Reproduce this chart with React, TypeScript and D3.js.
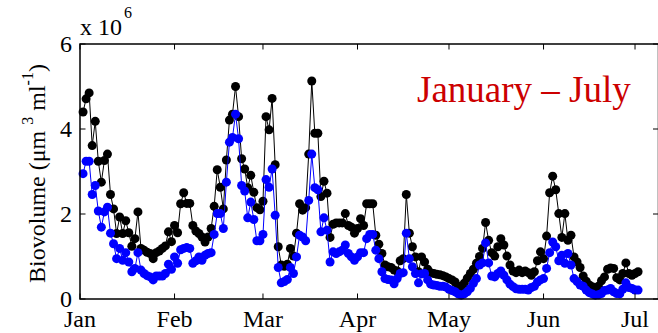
import React from "react";
import * as d3 from "d3";

// Daily biovolume values (x 10^6 µm^3 ml^-1), starting 2 January
const startDate = "2008-01-02";

const totalBiovolume = [
  4.40, 4.71, 4.85, 3.61, 4.18, 3.24, 2.75, 3.26, 3.41, 2.46,
  2.12, 1.54, 1.93, 1.54, 1.84, 1.56, 1.24, 1.42, 2.05, 1.19,
  1.15, 1.10, 1.07, 0.95, 1.09, 1.13, 1.19, 1.25, 1.58, 1.35,
  1.73, 1.56, 2.24, 2.50, 2.25, 2.25, 1.73, 1.60, 1.54, 1.46,
  1.34, 1.46, 1.66, 2.18, 3.04, 2.63, 2.12, 3.27, 4.21, 4.35,
  5.00, 4.29, 3.30, 3.06, 2.62, 2.91, 2.51, 2.15, 2.10, 2.30,
  4.29, 3.98, 4.72, 3.16, 1.23, 0.80, 0.77, 0.82, 1.19, 1.01,
  1.55, 2.24, 2.09, 2.15, 3.41, 5.13, 3.90, 3.90, 2.41, 2.77,
  2.49, 1.45, 1.76, 1.79, 1.79, 1.79, 2.01, 1.73, 1.69, 1.55,
  1.66, 1.89, 1.73, 2.24, 2.24, 2.24, 1.50, 1.29, 1.07, 0.80,
  0.76, 0.74, 0.68, 0.66, 0.90, 0.95, 2.46, 1.55, 1.23, 0.99,
  0.64, 0.99, 0.87, 0.70, 0.62, 0.60, 0.58, 0.57, 0.55, 0.52,
  0.48, 0.45, 0.40, 0.30, 0.25, 0.37, 0.49, 0.60, 0.70, 0.84,
  1.00, 1.19, 1.80, 1.38, 1.09, 1.01, 1.23, 1.42, 1.27, 1.01,
  0.80, 0.66, 0.62, 0.68, 0.62, 0.66, 0.62, 0.56, 0.64, 0.90,
  1.11, 0.95, 1.48, 2.50, 2.89, 2.57, 2.01, 1.45, 2.01, 1.38,
  1.50, 0.99, 0.87, 0.74, 0.54, 0.42, 0.33, 0.29, 0.21, 0.30,
  0.43, 0.52, 0.70, 0.73, 0.72, 0.50, 0.45, 0.60, 0.85, 0.60,
  0.56, 0.60, 0.64,
];

const subsetBiovolume = [
  2.95, 3.24, 3.24, 2.46, 2.67, 2.07, 1.69, 2.05, 2.16, 1.55,
  1.30, 0.95, 1.19, 0.91, 1.09, 0.87, 0.64, 0.72, 1.09, 0.68,
  0.60, 0.55, 0.52, 0.45, 0.54, 0.54, 0.54, 0.60, 0.82, 0.70,
  0.99, 0.84, 1.16, 1.19, 1.21, 1.19, 0.84, 0.90, 0.99, 0.91,
  1.03, 1.07, 1.09, 1.52, 2.01, 2.01, 1.66, 2.75, 3.69, 3.80,
  4.35, 3.77, 2.67, 2.54, 1.91, 2.28, 1.87, 1.37, 1.37, 1.52,
  2.81, 2.63, 3.06, 1.97, 0.74, 0.38, 0.41, 0.46, 0.74, 0.60,
  0.99, 1.50, 1.46, 1.37, 2.32, 3.41, 2.62, 2.57, 1.58, 1.91,
  1.62, 0.87, 1.11, 1.07, 1.11, 1.15, 1.27, 1.07, 0.99, 0.91,
  0.99, 1.09, 1.09, 1.42, 1.52, 1.52, 1.15, 0.95, 0.64, 0.48,
  0.46, 0.45, 0.36, 0.48, 0.60, 0.62, 1.55, 0.95, 0.76, 0.60,
  0.38, 0.59, 0.60, 0.45, 0.35, 0.33, 0.32, 0.30, 0.30, 0.28,
  0.23, 0.20, 0.17, 0.12, 0.09, 0.12, 0.17, 0.25, 0.37, 0.48,
  0.80, 0.85, 1.32, 0.85, 0.54, 0.52, 0.60, 0.66, 0.56, 0.45,
  0.35, 0.29, 0.24, 0.23, 0.23, 0.23, 0.21, 0.27, 0.30, 0.40,
  0.45, 0.48, 0.72, 1.09, 1.34, 1.23, 0.90, 1.03, 0.84, 1.07,
  0.80, 0.48, 0.41, 0.33, 0.30, 0.21, 0.15, 0.12, 0.09, 0.10,
  0.13, 0.20, 0.21, 0.25, 0.17, 0.13, 0.12, 0.23, 0.38, 0.27,
  0.25, 0.21, 0.21,
];

const yTicks = [0, 2, 4, 6];
const monthLabels = ["Jan", "Feb", "Mar", "Apr", "May", "Jun", "Jul"];
const titleText = "January \u2013 July";

const W = 658;
const H = 333;
const M = { left: 80, right: 658.5, top: 44, bottom: 299 };
const DAY = 864e5;
const FONT = "'Liberation Serif', 'Times New Roman', serif";

export default function App() {
  const t0 = new Date(Date.UTC(2008, 0, 1));
  const t1 = new Date(t0.getTime() + 189.7 * DAY);
  const x = d3.scaleUtc().domain([t0, t1]).range([M.left, M.right]);
  const y = d3.scaleLinear().domain([0, 6]).range([M.bottom, M.top]);

  const start = new Date(startDate + "T00:00:00Z").getTime();
  const toPts = (arr: number[]) => arr.map((v, i) => ({ t: new Date(start + i * DAY), v }));
  const black = toPts(totalBiovolume);
  const blue = toPts(subsetBiovolume);

  const line = d3
    .line<{ t: Date; v: number }>()
    .x((d) => x(d.t))
    .y((d) => y(d.v));

  const months = d3.utcMonth.range(t0, new Date(Date.UTC(2008, 6, 2)));

  const tick = 5.5;
  const r = 4.5;

  return (
    <div style={{ position: "absolute", left: 0, top: 0 }}>
      <svg width={W} height={H} style={{ display: "block", background: "#fff" }}>
        {/* series: black */}
        <path d={line(black) || ""} fill="none" stroke="#000" strokeWidth={1} />
        {black.map((d, i) => (
          <circle key={"k" + i} cx={x(d.t)} cy={y(d.v)} r={r} fill="#000" />
        ))}
        {/* series: blue */}
        <path d={line(blue) || ""} fill="none" stroke="#0000ff" strokeWidth={1} />
        {blue.map((d, i) => (
          <circle key={"b" + i} cx={x(d.t)} cy={y(d.v)} r={r} fill="#0000ff" />
        ))}

        {/* axes box */}
        <rect
          x={M.left}
          y={M.top}
          width={M.right - M.left}
          height={M.bottom - M.top}
          fill="none"
          stroke="#000"
          strokeWidth={1.5}
        />
        {/* y ticks */}
        {yTicks.map((v) => (
          <g key={"yt" + v}>
            <line x1={M.left} x2={M.left + tick} y1={y(v)} y2={y(v)} stroke="#000" strokeWidth={1} />
            <line x1={M.right - tick} x2={M.right} y1={y(v)} y2={y(v)} stroke="#000" strokeWidth={1} />
            <text
              x={M.left - 8}
              y={y(v)}
              dy="0.34em"
              textAnchor="end"
              fontFamily={FONT}
              fontSize={24}
              fill="#000"
            >
              {v}
            </text>
          </g>
        ))}
        {/* x ticks */}
        {months.map((m, i) => (
          <g key={"xt" + i}>
            <line x1={x(m)} x2={x(m)} y1={M.bottom} y2={M.bottom - tick} stroke="#000" strokeWidth={1} />
            <line x1={x(m)} x2={x(m)} y1={M.top} y2={M.top + tick} stroke="#000" strokeWidth={1} />
            <text
              x={x(m)}
              y={327}
              textAnchor="middle"
              fontFamily={FONT}
              fontSize={24}
              fill="#000"
            >
              {monthLabels[i]}
            </text>
          </g>
        ))}

        {/* exponent */}
        <text x={80} y={35} fontFamily={FONT} fontSize={24} fill="#000">
          x 10
          <tspan fontSize={16} dy={-17} dx={2}>
            6
          </tspan>
        </text>

        {/* y label */}
        <text
          transform={`translate(45,${(M.top + M.bottom) / 2 + 2}) rotate(-90)`}
          textAnchor="middle"
          fontFamily={FONT}
          fontSize={24}
          fill="#000"
        >
          Biovolume (μm{" "}
          <tspan fontSize={16} dy={-12}>
            3
          </tspan>
          <tspan dy={12}> ml</tspan>
          <tspan fontSize={16} dy={-12}>
            -1
          </tspan>
          <tspan dy={12}>)</tspan>
        </text>

        {/* title */}
        <text x={417} y={102} fontFamily={FONT} fontSize={37} fill="#cc0000">
          {titleText}
        </text>
      </svg>
    </div>
  );
}
